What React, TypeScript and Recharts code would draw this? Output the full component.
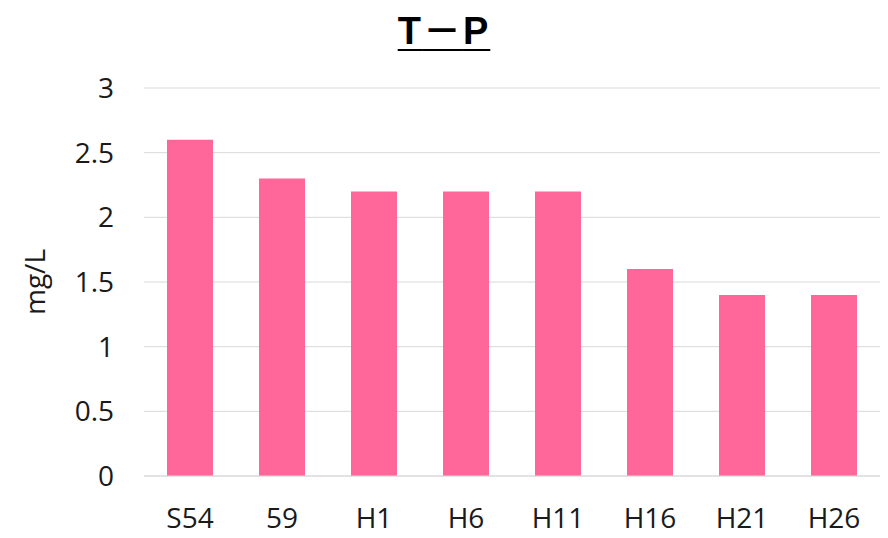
import React from 'react';
import { BarChart, Bar, XAxis, YAxis, CartesianGrid, Label } from 'recharts';

const categories = ['S54', '59', 'H1', 'H6', 'H11', 'H16', 'H21', 'H26'];
const tpValues = [2.6, 2.3, 2.2, 2.2, 2.2, 1.6, 1.4, 1.4];
const yTicks = [0, 0.5, 1, 1.5, 2, 2.5, 3];

const data = categories.map((name, i) => ({ name, value: tpValues[i] }));

const tickFont = { fontFamily: 'Open Sans, Noto Sans, sans-serif', fontSize: 28, fill: '#1a1a1a' };

export default function App() {
  return (
    <div style={{ position: 'absolute', left: 0, top: 0, width: 888, height: 538, background: '#fff' }}>
      <div
        style={{
          position: 'absolute',
          left: 0,
          width: 888,
          top: 0,
          textAlign: 'center',
          fontFamily: 'Liberation Sans, Noto Sans CJK JP, Arial, sans-serif',
          fontWeight: 'bold',
          fontSize: 38,
          letterSpacing: 2,
          color: '#000',
          textDecoration: 'underline',
          textDecorationThickness: 2,
          textUnderlineOffset: 5,
        }}
      >
        T<span style={{ fontFamily: 'Noto Sans CJK JP' }}>－</span>P
      </div>
      <BarChart
        width={888}
        height={538}
        data={data}
        margin={{ top: 88, right: 8, left: 0, bottom: 0 }}
        barCategoryGap="25%"
      >
        <CartesianGrid vertical={false} stroke="#d9d9d9" />
        <XAxis
          dataKey="name"
          height={62}
          tickLine={false}
          axisLine={{ stroke: '#d9d9d9' }}
          tick={tickFont}
          tickMargin={26}
          interval={0}
        />
        <YAxis
          width={144}
          domain={[0, 3]}
          ticks={yTicks}
          tickLine={false}
          axisLine={false}
          tick={tickFont}
          tickMargin={24}
        >
          <Label
            value="mg/L"
            angle={-90}
            position="insideLeft"
            offset={35}
            style={{ ...tickFont, textAnchor: 'middle' }}
          />
        </YAxis>
        <Bar dataKey="value" fill="#ff6699" isAnimationActive={false} />
      </BarChart>
    </div>
  );
}
